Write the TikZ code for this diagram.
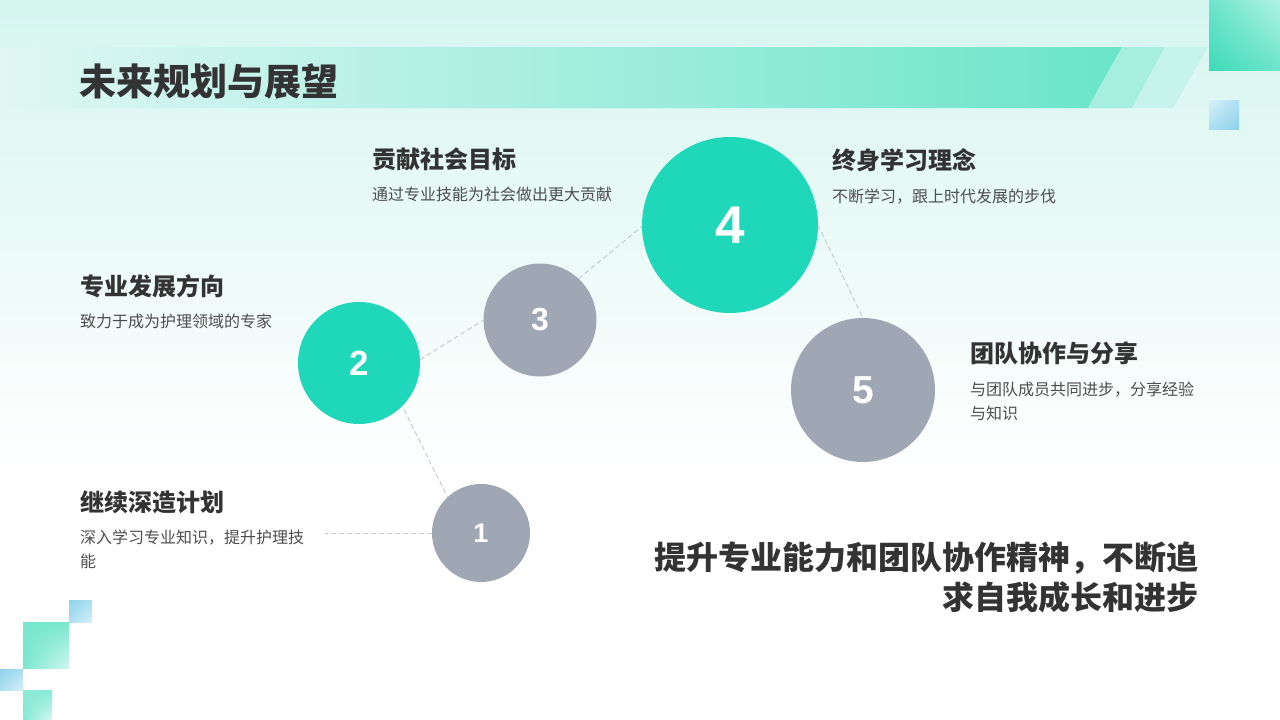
\documentclass[tikz,border=0pt]{standalone}
\usepackage{fontspec}
\usetikzlibrary{shadings}
\newfontfamily\cjk{Noto Sans CJK SC}
\newfontfamily\numfont{Liberation Sans}
\definecolor{bgtop}{HTML}{D6F5EF}
\definecolor{teal}{HTML}{1FD8B9}
\definecolor{grayc}{HTML}{A0A7B4}
\definecolor{bandR}{HTML}{6AE5CA}
\definecolor{bandL}{HTML}{E0F7F3}
\definecolor{para1}{HTML}{A6EFDF}
\definecolor{para2}{HTML}{C6F4EA}
\definecolor{sqA}{HTML}{3EDBB8}
\definecolor{sqB}{HTML}{B2F2E5}
\definecolor{blA}{HTML}{8FD3EC}
\definecolor{blB}{HTML}{D8F0F8}
\definecolor{dark}{HTML}{333333}
\definecolor{body}{HTML}{4D4D4D}
\definecolor{dashc}{HTML}{C3C7CE}
\tikzset{
  bubble/.style={circle, inner sep=0pt, outer sep=0pt, text=white, font=\numfont\bfseries},
  conn/.style={draw=dashc, line width=0.9pt, dash pattern=on 5pt off 3pt},
  head/.style={anchor=west, inner sep=0pt, text=dark, font=\cjk\bfseries\fontsize{24}{28}\selectfont},
  bodytxt/.style={anchor=north west, inner sep=0pt, text=body, align=left, font=\cjk\fontsize{16}{23.5}\selectfont},
}
\begin{document}
\begin{tikzpicture}[x=1pt,y=-1pt]
\useasboundingbox (0,0) rectangle (1280,720);
% background
\fill[white] (0,0) rectangle (1280,720);
\shade[top color=bgtop, bottom color=white] (0,0) rectangle (1280,470);
% title band
\shade[left color=bandL, right color=bandR] (0,47) -- (1122,47) -- (1088,108) -- (0,108) -- cycle;
\fill[para1] (1122,47) -- (1165,47) -- (1132,108) -- (1088,108) -- cycle;
\fill[para2] (1165,47) -- (1208,47) -- (1173,108) -- (1132,108) -- cycle;
% top right squares
\shade[lower left=sqA, upper right=sqB, upper left=sqA!60!sqB, lower right=sqA!60!sqB] (1209,0) rectangle (1280,70);
\shade[lower right=blA, upper left=blB, upper right=blA!60!blB, lower left=blA!60!blB] (1209,100) rectangle (1239,129);
% bottom left squares
\shade[upper left=blA, lower right=blB, upper right=blA!60!blB, lower left=blA!60!blB] (69,600) rectangle (92,622);
\shade[upper left=sqA!70!white, lower right=sqB!60!white, upper right=sqA!50!sqB, lower left=sqA!50!sqB] (23,622) rectangle (69,668);
\shade[upper left=blA, lower right=blB, upper right=blA!60!blB, lower left=blA!60!blB] (0,669) rectangle (23,690);
\shade[upper left=sqA!60!white, lower right=sqB!50!white, upper right=sqA!40!sqB, lower left=sqA!40!sqB] (23,690) rectangle (52,720);
% title
\node[anchor=west, inner sep=0pt, text=dark, font=\cjk\bfseries\fontsize{37}{40}\selectfont] (title) at (79,82) {未来规划与展望};
% circles
\node[bubble, fill=grayc, minimum size=98pt, font=\numfont\bfseries\fontsize{27}{30}\selectfont] (c1) at (481,533) {1};
\node[bubble, fill=teal, minimum size=122pt, font=\numfont\bfseries\fontsize{35}{40}\selectfont] (c2) at (359,363) {2};
\node[bubble, fill=grayc, minimum size=113pt, font=\numfont\bfseries\fontsize{32}{36}\selectfont] (c3) at (540,320) {3};
\node[bubble, fill=teal, minimum size=176pt, font=\numfont\bfseries\fontsize{53}{60}\selectfont] (c4) at (730,225) {4};
\node[bubble, fill=grayc, minimum size=144pt, font=\numfont\bfseries\fontsize{39}{44}\selectfont] (c5) at (863,390) {5};
% connectors
\coordinate (l1) at (325,533);
\draw[conn] (c1.180) -- (l1);
\draw[conn] ([shift={(-46:4pt)}]c2.-46) -- (c1.133);
\draw[conn] (c2.3) -- (c3.180);
\draw[conn] (c3.47) -- (c4.181);
\draw[conn] (c4.0) -- (c5.90);
% texts
\node[head] (h1) at (80,502) {继续深造计划};
\node[bodytxt] (b1) at (80,530) {深入学习专业知识，提升护理技\\能};
\node[head] (h2) at (80,286) {专业发展方向};
\node[bodytxt] (b2) at (80,314) {致力于成为护理领域的专家};
\node[head] (h3) at (372,159) {贡献社会目标};
\node[bodytxt] (b3) at (372,187) {通过专业技能为社会做出更大贡献};
\node[head] (h4) at (832,160) {终身学习理念};
\node[bodytxt] (b4) at (832,189) {不断学习，跟上时代发展的步伐};
\node[head] (h5) at (970,353) {团队协作与分享};
\node[bodytxt] (b5) at (970,382) {与团队成员共同进步，分享经验\\与知识};
% summary
\node[anchor=east, inner sep=0pt, align=right, text=dark, font=\cjk\bfseries\fontsize{32}{40}\selectfont] (sum) at (1199,577) {提升专业能力和团队协作精神，不断追\\求自我成长和进步};
\end{tikzpicture}
\end{document}
